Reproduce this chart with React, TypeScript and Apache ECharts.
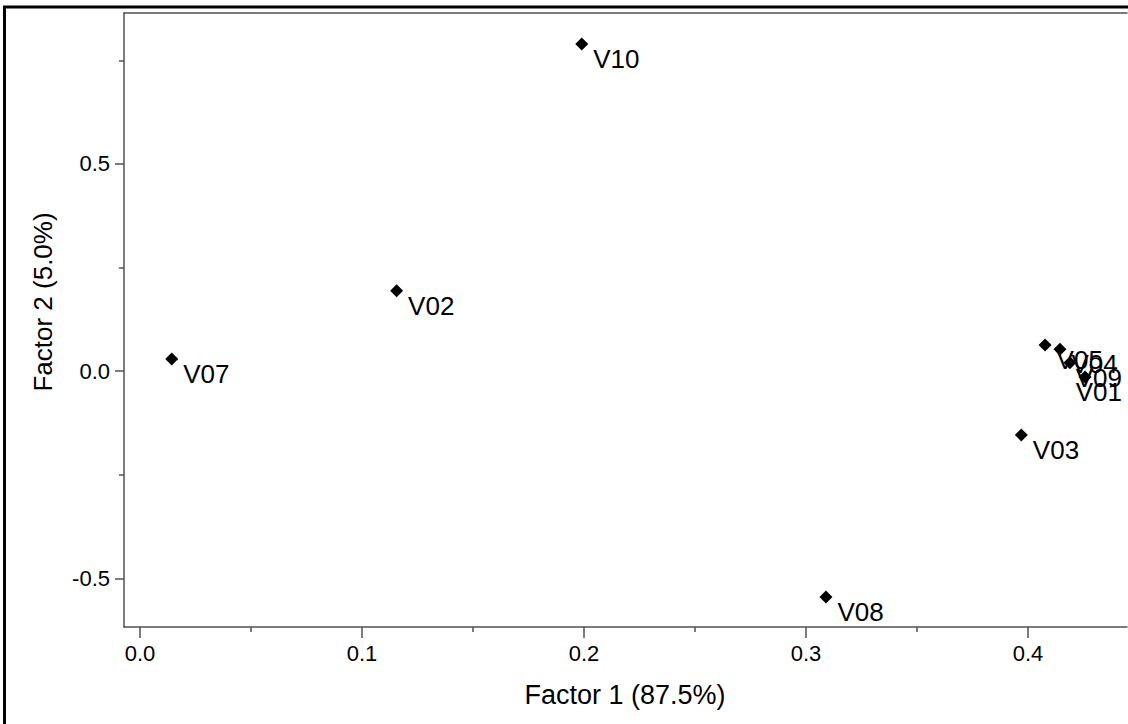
import React, { useEffect, useRef } from "react";
import * as echarts from "echarts";

// ---- data ----
const names = ["V10", "V02", "V07", "V08", "V03", "V05", "V04", "V09", "V01"];
const factor1 = [0.199, 0.1156, 0.0143, 0.309, 0.397, 0.4077, 0.4144, 0.4189, 0.4257];
const factor2 = [0.789, 0.194, 0.029, -0.545, -0.154, 0.063, 0.053, 0.02, -0.014];

const xTickValues = [0, 0.1, 0.2, 0.3, 0.4];
const xMinorTicks = [0.05, 0.15, 0.25, 0.35];
const yTickValues = [-0.5, 0, 0.5];
const yMinorTicks = [-0.25, 0.25, 0.75];
const xRange = [-0.0072, 0.4446];
const yRange = [-0.6175, 0.8641];

const xTitle = "Factor 1 (87.5%)";
const yTitle = "Factor 2 (5.0%)";

const FONT = "'Liberation Sans', Arial, sans-serif";
const AXIS_COLOR = "#505050";
const TEXT_COLOR = "#000";

export default function App() {
  const ref = useRef<HTMLDivElement>(null);

  useEffect(() => {
    if (!ref.current) return;
    const chart = echarts.init(ref.current, null, { renderer: "svg" });
    const W = 1128;

    const axisLine = { show: true, onZero: false, lineStyle: { color: AXIS_COLOR, width: 1.5 } };
    const hiddenLine = { show: false, onZero: false };

    chart.setOption({
      animation: false,
      backgroundColor: "#fff",
      grid: { left: 124, top: 13, width: 1003, height: 614, containLabel: false },
      xAxis: [
        {
          type: "value",
          position: "bottom",
          min: xRange[0],
          max: xRange[1],
          axisLine,
          axisTick: { show: true, customValues: xTickValues, length: 11, lineStyle: { color: AXIS_COLOR, width: 1.5 } },
          axisLabel: {
            customValues: xTickValues,
            formatter: (v: number) => v.toFixed(1),
            margin: 15,
            fontSize: 22,
            fontFamily: FONT,
            color: TEXT_COLOR,
          },
          splitLine: { show: false },
        },
        {
          type: "value",
          position: "bottom",
          min: xRange[0],
          max: xRange[1],
          axisLine: hiddenLine,
          axisTick: { show: true, customValues: xMinorTicks, length: 5, lineStyle: { color: AXIS_COLOR, width: 1.5 } },
          axisLabel: { show: false },
          splitLine: { show: false },
        },
        {
          type: "value",
          position: "top",
          min: xRange[0],
          max: xRange[1],
          axisLine,
          axisTick: { show: false },
          axisLabel: { show: false },
          splitLine: { show: false },
        },
      ],
      yAxis: [
        {
          type: "value",
          position: "left",
          min: yRange[0],
          max: yRange[1],
          axisLine,
          axisTick: { show: true, customValues: yTickValues, length: 9, lineStyle: { color: AXIS_COLOR, width: 1.5 } },
          axisLabel: {
            customValues: yTickValues,
            formatter: (v: number) => v.toFixed(1),
            margin: 14,
            fontSize: 22,
            fontFamily: FONT,
            color: TEXT_COLOR,
          },
          splitLine: { show: false },
        },
        {
          type: "value",
          position: "left",
          min: yRange[0],
          max: yRange[1],
          axisLine: hiddenLine,
          axisTick: { show: true, customValues: yMinorTicks, length: 5, lineStyle: { color: AXIS_COLOR, width: 1.5 } },
          axisLabel: { show: false },
          splitLine: { show: false },
        },
      ],
      graphic: [
        {
          type: "rect",
          shape: { x: 4.5, y: 7, width: 1300, height: 900 },
          style: { fill: "none", stroke: "#000", lineWidth: 3 },
          silent: true,
        },
        {
          type: "text",
          x: 625,
          y: 695,
          style: {
            text: xTitle,
            fontSize: 27,
            fontFamily: FONT,
            fill: TEXT_COLOR,
            align: "center",
            verticalAlign: "middle",
          },
        },
        {
          type: "text",
          x: 43,
          y: 302,
          rotation: Math.PI / 2,
          style: {
            text: yTitle,
            fontSize: 26,
            fontFamily: FONT,
            fill: TEXT_COLOR,
            align: "center",
            verticalAlign: "middle",
          },
        },
      ],
      series: [
        {
          type: "scatter",
          xAxisIndex: 0,
          yAxisIndex: 0,
          symbol: "diamond",
          symbolSize: 13,
          itemStyle: { color: "#000", opacity: 1 },
          data: names.map((n, i) => [factor1[i], factor2[i], n]),
          label: {
            show: true,
            position: "right",
            distance: 5,
            formatter: (p: any) => p.data[2],
            fontSize: 26,
            fontFamily: FONT,
            color: TEXT_COLOR,
          },
          labelLayout: (params: any) => {
            const r = params.labelRect;
            const limit = W - 6;
            let dx = 0;
            if (r && r.x + r.width > limit) {
              dx = limit - (r.x + r.width);
            }
            return { dx, dy: 15 };
          },
        },
      ],
    });

    return () => {
      chart.dispose();
    };
  }, []);

  return (
    <div
      ref={ref}
      style={{ position: "absolute", left: 0, top: 0, width: 1128, height: 724, background: "#fff" }}
    />
  );
}
